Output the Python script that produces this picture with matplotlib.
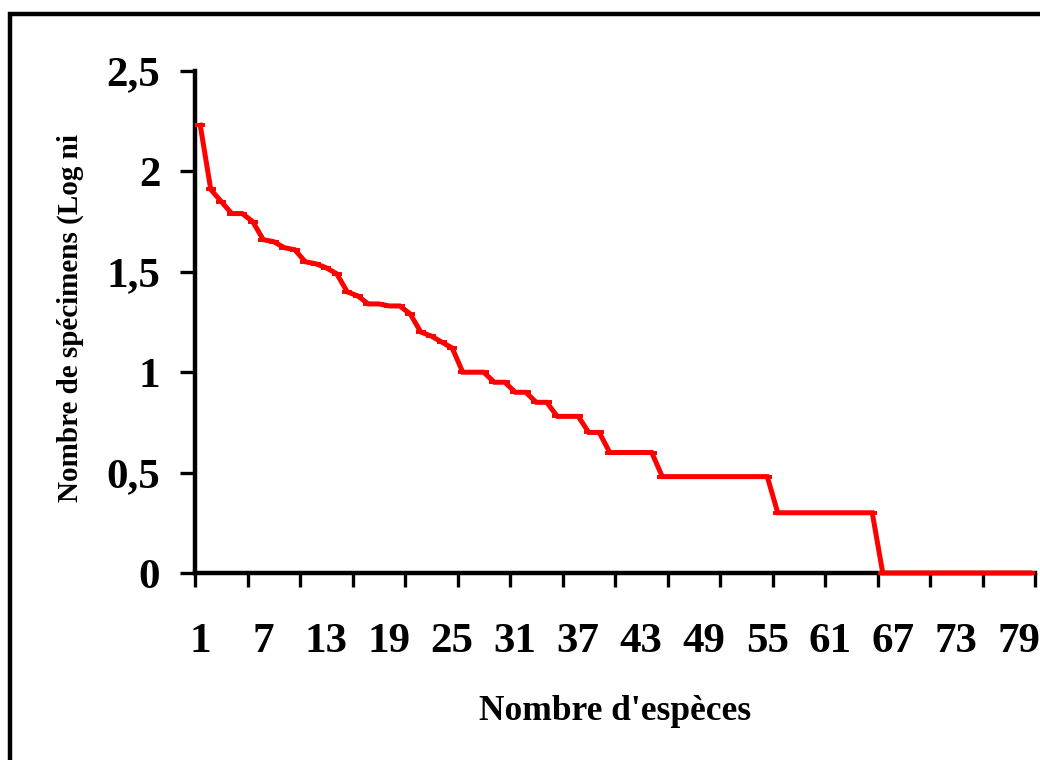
import matplotlib.pyplot as plt
import matplotlib.patches as patches
import numpy as np

# rangs des espèces et valeurs Log ni
especes = np.arange(1, 81)
log_ni = [2.23, 1.91, 1.85, 1.79, 1.79, 1.75, 1.66, 1.65, 1.62, 1.61,
          1.55, 1.54, 1.52, 1.49, 1.40, 1.38, 1.34, 1.34, 1.33, 1.33,
          1.29, 1.20, 1.18, 1.15, 1.12, 1.00, 1.00, 1.00, 0.95, 0.95,
          0.90, 0.90, 0.85, 0.85, 0.78, 0.78, 0.78, 0.70, 0.70, 0.60,
          0.60, 0.60, 0.60, 0.60, 0.48, 0.48, 0.48, 0.48, 0.48, 0.48,
          0.48, 0.48, 0.48, 0.48, 0.48, 0.30, 0.30, 0.30, 0.30, 0.30,
          0.30, 0.30, 0.30, 0.30, 0.30, 0.00, 0.00, 0.00, 0.00, 0.00,
          0.00, 0.00, 0.00, 0.00, 0.00, 0.00, 0.00, 0.00, 0.00, 0.00]

x_labels = [1, 7, 13, 19, 25, 31, 37, 43, 49, 55, 61, 67, 73, 79]
y_ticks = [0, 0.5, 1, 1.5, 2, 2.5]
y_tick_labels = ["0", "0,5", "1", "1,5", "2", "2,5"]

plt.rcParams["font.family"] = ["Liberation Serif", "DejaVu Serif"]
plt.rcParams["font.weight"] = "bold"

fig = plt.figure(figsize=(10.4, 7.6), dpi=100)
W, H = 1040, 760
ax = fig.add_axes([195 / W, (H - 573) / H, 840 / W, 502 / H])

ax.plot(especes, log_ni, color="#ff0000", lw=3.6, marker="_", ms=7, mew=2.8,
        solid_joinstyle="miter", zorder=5, clip_on=False)

ax.set_xlim(0.5, 80.5)
ax.set_ylim(0, 2.5)

# ticks
ax.set_xticks(x_labels)
ax.set_xticklabels([str(v) for v in x_labels], fontsize=31, fontweight="bold")
ax.tick_params(axis="x", which="major", length=0, pad=36)
ax.set_xticks(np.arange(0.5, 81, 5), minor=True)
ax.tick_params(axis="x", which="minor", length=10, width=2.4, direction="out")

ax.set_yticks(y_ticks)
ax.set_yticklabels(y_tick_labels, fontsize=31, fontweight="bold")
ax.tick_params(axis="y", length=11, width=2.4, direction="out", pad=14)

for s in ["top", "right"]:
    ax.spines[s].set_visible(False)
for s in ["left", "bottom"]:
    ax.spines[s].set_linewidth(3.2)

fig.text(615 / W, 1 - 711 / H, "Nombre d'espèces", fontsize=25.5,
         fontweight="bold", ha="center", va="center")
fig.text(70 / W, 1 - 318 / H, "Nombre de spécimens (Log ni", fontsize=21,
         fontweight="bold", ha="center", va="center", rotation=90)

# cadre extérieur
fig.add_artist(patches.Rectangle((10 / W, -0.1), 1.2, (H - 14) / H + 0.1,
                                 transform=fig.transFigure, fill=False,
                                 lw=3.2, ec="black"))

fig.savefig("out.png", dpi=100)
